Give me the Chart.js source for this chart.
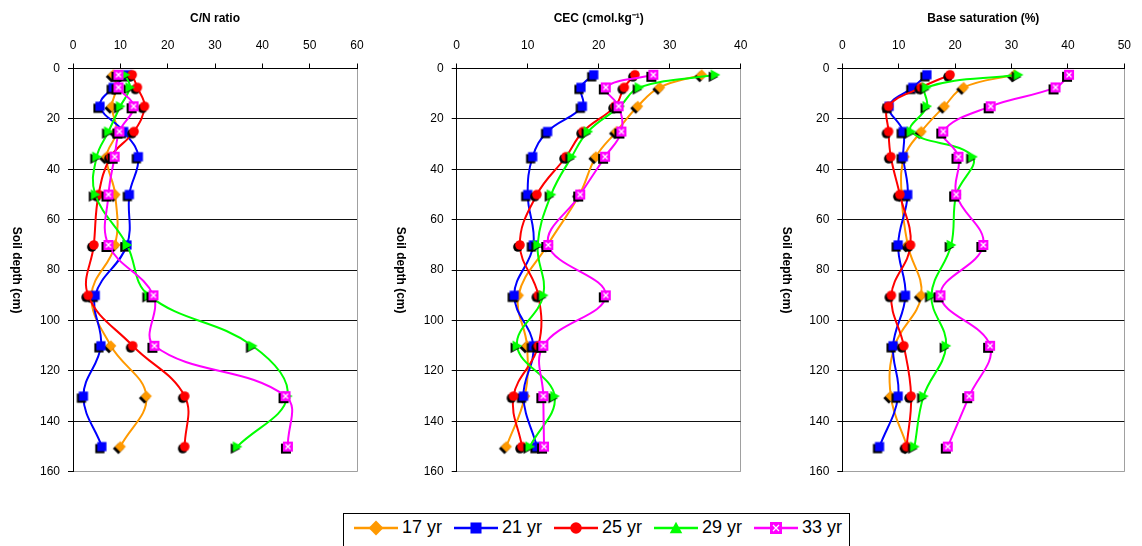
<!DOCTYPE html>
<html><head><meta charset="utf-8">
<script src="https://cdn.jsdelivr.net/npm/chart.js@4.4.1/dist/chart.umd.min.js"></script>
<style>
html,body{margin:0;padding:0;background:#fff;width:1142px;height:546px;overflow:hidden;position:relative;font-family:"Liberation Sans",Arial,sans-serif;}
canvas.c{position:absolute;top:0;}
#legend{position:absolute;left:343px;top:513px;width:507px;height:40px;border:1px solid #000;background:#fff;box-sizing:border-box;}
#legend canvas{position:absolute;top:4px;}
#legend span{position:absolute;top:2px;font-size:18px;line-height:22px;color:#000;font-family:"Liberation Sans",Arial,sans-serif;}
</style></head>
<body>
<canvas class="c" id="p1" width="380" height="487" style="left:0px;width:380px;height:487px"></canvas>
<canvas class="c" id="p2" width="380" height="487" style="left:384px;width:380px;height:487px"></canvas>
<canvas class="c" id="p3" width="372" height="487" style="left:770px;width:372px;height:487px"></canvas>
<div id="legend"></div>
<script>
// ---- data ----
const depthCm = [2.5, 7.5, 15, 25, 35, 50, 70, 90, 110, 130, 150];
const seriesNames = ['17 yr', '21 yr', '25 yr', '29 yr', '33 yr'];

const cn17 = [8.5, 9.2, 8.2, 9.2, 7.1, 8.9, 8.9, 3.9, 8.0, 15.5, 10.0];
const cn21 = [11.5, 8.5, 5.7, 10.7, 13.8, 11.9, 11.4, 4.7, 5.9, 2.2, 6.1];
const cn25 = [12.5, 13.6, 15.1, 12.9, 8.0, 5.4, 4.4, 3.2, 12.6, 23.6, 23.6];
const cn29 = [11.0, 12.0, 10.0, 7.5, 5.0, 4.7, 11.4, 16.0, 37.9, 45.3, 34.7];
const cn33 = [9.6, 9.6, 12.8, 9.8, 8.8, 7.5, 7.5, 17.0, 17.2, 44.9, 45.4];

const cec17 = [34.5, 28.6, 25.5, 22.5, 19.6, 17.3, 12.8, 8.7, 9.9, 9.6, 7.0];
const cec21 = [19.3, 17.5, 17.7, 12.8, 10.7, 10.0, 10.8, 8.1, 10.8, 9.4, 11.3];
const cec25 = [25.1, 23.6, 22.3, 17.8, 15.4, 11.3, 8.9, 11.5, 11.5, 8.0, 9.2];
const cec29 = [36.4, 25.7, 23.0, 18.5, 16.2, 13.3, 11.4, 12.2, 8.5, 13.8, 10.3];
const cec33 = [27.7, 21.0, 22.8, 23.2, 20.9, 17.4, 12.9, 21.0, 12.2, 12.2, 12.3];

const bs17 = [30.5, 21.5, 18.1, 14.0, 11.0, 10.5, 11.6, 14.0, 9.3, 8.6, 11.5];
const bs21 = [15.0, 12.5, 8.3, 10.8, 10.8, 11.6, 9.9, 11.2, 9.0, 9.9, 6.6];
const bs25 = [19.1, 14.0, 8.2, 8.2, 8.6, 10.2, 12.1, 8.7, 10.9, 12.2, 11.4];
const bs29 = [31.2, 14.9, 15.0, 12.2, 23.1, 20.2, 19.3, 15.8, 18.4, 14.4, 12.8];
const bs33 = [40.2, 37.8, 26.3, 17.9, 20.6, 20.2, 25.0, 17.4, 26.2, 22.5, 18.7];

const depthTicks = [0, 20, 40, 60, 80, 100, 120, 140, 160];
const cnTicks = [0, 10, 20, 30, 40, 50, 60];
const cecTicks = [0, 10, 20, 30, 40];
const bsTicks = [0, 10, 20, 30, 40, 50];
const depthTitle = 'Soil depth (cm)';

// ---- styles ----
const colors = ['#FF9900', '#0000FF', '#FF0000', '#00FF00', '#FF00FF'];
const shapes = ['diamond', 'square', 'circle', 'triR', 'square'];
const sizes = [5.5, 4.6, 4.8, 5.2, 5.0];
const FONT = '"Liberation Sans", Arial, sans-serif';

function shapePath(ctx, shape, cx, cy, s) {
  ctx.beginPath();
  if (shape === 'diamond') { ctx.moveTo(cx, cy - s); ctx.lineTo(cx + s, cy); ctx.lineTo(cx, cy + s); ctx.lineTo(cx - s, cy); ctx.closePath(); }
  else if (shape === 'square') { ctx.rect(cx - s, cy - s, 2 * s, 2 * s); }
  else if (shape === 'circle') { ctx.arc(cx, cy, s, 0, Math.PI * 2); }
  else if (shape === 'triR') { ctx.moveTo(cx - s * 0.85, cy - s); ctx.lineTo(cx + s, cy); ctx.lineTo(cx - s * 0.85, cy + s); ctx.closePath(); }
  else if (shape === 'triUp') { ctx.moveTo(cx, cy - s); ctx.lineTo(cx + s, cy + s * 0.85); ctx.lineTo(cx - s, cy + s * 0.85); ctx.closePath(); }
}
function marker(i, shadow, scale, shapeOverride) {
  const s = sizes[i] * (scale || 1);
  const shape = shapeOverride || shapes[i];
  const size = 2 * Math.ceil(s + 4);
  const c = document.createElement('canvas'); c.width = size; c.height = size;
  const ctx = c.getContext('2d'); const m = size / 2;
  if (shadow) { shapePath(ctx, shape, m - 2, m + 2, s); ctx.fillStyle = '#000'; ctx.fill(); }
  shapePath(ctx, shape, m, m, s); ctx.fillStyle = colors[i]; ctx.fill();
  if (i === 4) {
    const d = s * 0.5;
    ctx.strokeStyle = '#fff'; ctx.lineWidth = 1.3; ctx.beginPath();
    ctx.moveTo(m - d, m - d); ctx.lineTo(m + d, m + d); ctx.moveTo(m + d, m - d); ctx.lineTo(m - d, m + d); ctx.stroke();
  }
  return c;
}
const plotMarkers = colors.map((c, i) => marker(i, true));

// y-axis title drawn reading top-to-bottom (rotated clockwise), as in the original
const depthTitlePlugin = {
  id: 'depthTitle',
  afterDraw(chart) {
    const ctx = chart.ctx, ya = chart.scales.y;
    ctx.save();
    ctx.translate(16.5, (ya.top + ya.bottom) / 2);
    ctx.rotate(Math.PI / 2);
    ctx.font = 'bold 12px ' + FONT;
    ctx.fillStyle = '#000';
    ctx.textAlign = 'center';
    ctx.textBaseline = 'middle';
    ctx.fillText(depthTitle, 0, 0);
    ctx.restore();
  }
};

function makePanel(id, title, xTicks, series, yWidth, padRight) {
  const xmax = xTicks[xTicks.length - 1];
  const ymax = depthTicks[depthTicks.length - 1];
  const datasets = series.map((vals, i) => ({
    label: seriesNames[i],
    data: vals.map((v, k) => ({ x: v, y: depthCm[k] })),
    showLine: true,
    borderColor: colors[i],
    backgroundColor: colors[i],
    borderWidth: 2,
    tension: 0.4,
    pointStyle: plotMarkers[i],
    pointRadius: 5,
    order: 4 - i
  }));
  return new Chart(document.getElementById(id), {
    type: 'scatter',
    data: { datasets },
    plugins: [depthTitlePlugin],
    options: {
      responsive: false, animation: false, devicePixelRatio: 1,
      layout: { padding: { left: 0, right: padRight, top: 0, bottom: 9 } },
      plugins: { legend: { display: false }, tooltip: { enabled: false } },
      scales: {
        x: {
          type: 'linear', position: 'top', min: 0, max: xmax,
          afterBuildTicks: s => { s.ticks = xTicks.map(v => ({ value: v })); },
          ticks: { color: '#000', padding: 11, font: { family: FONT, size: 12 } },
          grid: { color: c => (c.tick && c.tick.value === xmax) ? '#a0a0a0' : 'rgba(0,0,0,0)', tickColor: '#000', tickLength: 5, lineWidth: 1 },
          border: { color: '#000', width: 1 },
          title: { display: true, text: title, color: '#000', font: { family: FONT, size: 12, weight: 'bold' }, padding: { top: 11, bottom: 0 } },
          afterFit: s => { s.height = 68.5; }
        },
        y: {
          type: 'linear', position: 'left', min: 0, max: ymax, reverse: true,
          afterBuildTicks: s => { s.ticks = depthTicks.map(v => ({ value: v })); },
          ticks: { color: '#000', padding: 8, font: { family: FONT, size: 12 } },
          grid: { color: c => (c.tick && c.tick.value === ymax) ? '#a0a0a0' : '#111', tickColor: '#000', tickLength: 5, lineWidth: 1 },
          border: { color: '#000', width: 1 },
          title: { display: false },
          afterFit: s => { s.width = yWidth; }
        }
      }
    }
  });
}

makePanel('p1', 'C/N ratio', cnTicks, [cn17, cn21, cn25, cn29, cn33], 73, 23);
makePanel('p2', 'CEC (cmol.kg\u207B\u00B9)', cecTicks, [cec17, cec21, cec25, cec29, cec33], 72.7, 23.3);
makePanel('p3', 'Base saturation (%)', bsTicks, [bs17, bs21, bs25, bs29, bs33], 72.3, 16);

// ---- legend ----
const leg = document.getElementById('legend');
seriesNames.forEach((name, i) => {
  const sw = document.createElement('canvas');
  sw.width = 44; sw.height = 20;
  sw.style.left = (10 + i * 100) + 'px';
  const ctx = sw.getContext('2d');
  ctx.strokeStyle = colors[i]; ctx.lineWidth = 2.5;
  ctx.beginPath(); ctx.moveTo(0, 10); ctx.lineTo(44, 10); ctx.stroke();
  const mk = marker(i, false, i === 0 ? 1.35 : 1.2, i === 3 ? 'triUp' : null);
  ctx.drawImage(mk, 22 - mk.width / 2, 10 - mk.height / 2);
  leg.appendChild(sw);
  const t = document.createElement('span');
  t.textContent = name;
  t.style.left = (58 + i * 100) + 'px';
  leg.appendChild(t);
});
</script>
</body></html>
